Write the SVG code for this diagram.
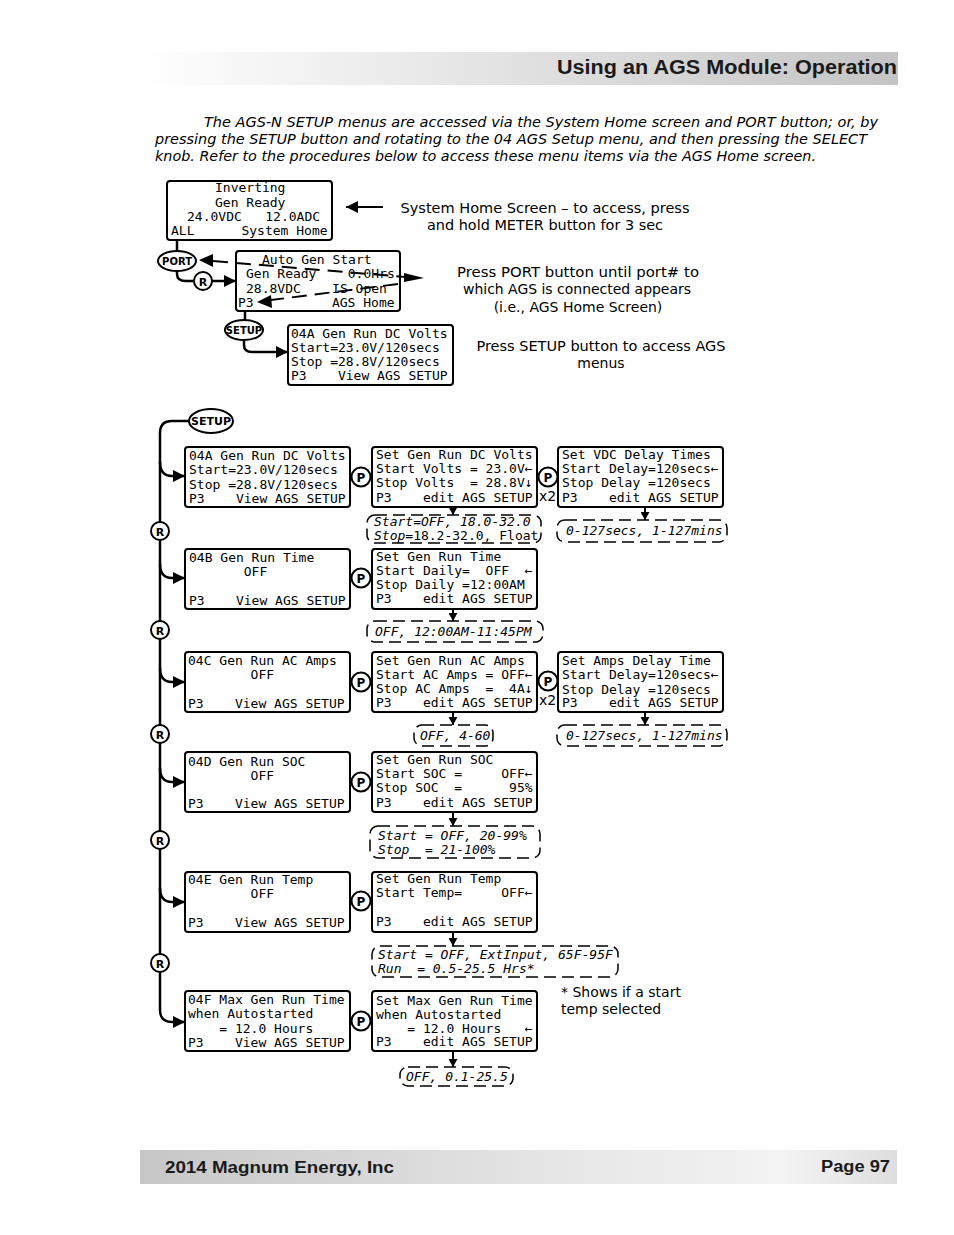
<svg xmlns="http://www.w3.org/2000/svg" width="954" height="1235" viewBox="0 0 954 1235">
<defs>
<linearGradient id="hdr" x1="0" y1="0" x2="1" y2="0">
<stop offset="0" stop-color="#ffffff"/>
<stop offset="0.45" stop-color="#e4e4e4"/>
<stop offset="1" stop-color="#c4c4c4"/>
</linearGradient>
<linearGradient id="ftr" x1="0" y1="0" x2="1" y2="0">
<stop offset="0" stop-color="#c6c6c6"/>
<stop offset="0.55" stop-color="#e6e6e6"/>
<stop offset="0.85" stop-color="#f3f3f3"/>
<stop offset="1" stop-color="#dedede"/>
</linearGradient>
<marker id="ah" markerUnits="userSpaceOnUse" markerWidth="12" markerHeight="12" refX="12" refY="6" orient="auto">
<path d="M0,0 L12,6 L0,12 z" fill="#000"/>
</marker>
<marker id="sm" markerUnits="userSpaceOnUse" markerWidth="9" markerHeight="9" refX="8" refY="4.5" orient="auto">
<path d="M0,0 L8,4.5 L0,9 z" fill="#000"/>
</marker>
<style>
.scr{fill:#fff;stroke:#000;stroke-width:2}
.mono{font-family:"DejaVu Sans Mono","Liberation Mono",monospace;font-size:13px;fill:#000;white-space:pre}
.it{font-family:"DejaVu Sans Mono","Liberation Mono",monospace;font-size:13px;font-style:italic;fill:#000;white-space:pre}
.rng{fill:#fff;stroke:#000;stroke-width:1.5;stroke-dasharray:12 6}
.conn{fill:none;stroke:#000;stroke-width:2.5}
.thin{fill:none;stroke:#000;stroke-width:2}
.dash{fill:none;stroke:#000;stroke-width:2;stroke-dasharray:15 8}
.btn{fill:#fff;stroke:#000;stroke-width:2}
.bl{font-family:"DejaVu Sans","Liberation Sans",sans-serif;font-weight:bold;fill:#000;text-anchor:middle}
.desc{font-family:"DejaVu Sans","Liberation Sans",sans-serif;font-size:14px;fill:#000}
.intro{font-family:"DejaVu Sans","Liberation Sans",sans-serif;font-size:14.5px;font-style:italic;fill:#000}
</style>
</defs>
<rect width="954" height="1235" fill="#fff"/>

<g id="header">
<rect x="140" y="52" width="758" height="33" fill="url(#hdr)"/>
<text x="897" y="74" text-anchor="end" font-family="Liberation Sans, Arial, sans-serif" font-weight="bold" font-size="19.5" fill="#1a1a1a" textLength="340" lengthAdjust="spacingAndGlyphs">Using an AGS Module: Operation</text>
</g>

<g id="intro">
<text class="intro" x="204" y="127" textLength="674" lengthAdjust="spacingAndGlyphs">The AGS-N SETUP menus are accessed via the System Home screen and PORT button; or, by</text>
<text class="intro" x="155" y="144" textLength="712" lengthAdjust="spacingAndGlyphs">pressing the SETUP button and rotating to the 04 AGS Setup menu, and then pressing the SELECT</text>
<text class="intro" x="155" y="161" textLength="661" lengthAdjust="spacingAndGlyphs">knob. Refer to the procedures below to access these menu items via the AGS Home screen.</text>
</g>

<g id="connectors">
<path class="thin" d="M383,207 H346" marker-end="url(#ah)"/>
<path class="conn" d="M177,240 V251"/>
<path class="conn" d="M177,271 V274 Q177,281 186,281 H194"/>
<path class="conn" d="M212,281 H236" marker-end="url(#ah)"/>
<path class="conn" d="M245,311 V321"/>
<path class="conn" d="M244,340 V345 Q244,352 252,352 H288" marker-end="url(#ah)"/>
<path class="dash" d="M213,261 L405,277"/>
<polygon points="199,260 213,254 213,267" fill="#000"/>
<polygon points="424,278 404,273 404,282" fill="#000"/>
<path class="dash" d="M398,284 L271,300"/>
<polygon points="257,302 271,295 272,308" fill="#000"/>

<path class="conn" d="M189,421 H172 Q160,421 160,433 V1010 Q160,1022 172,1022 H185" marker-end="url(#ah)"/>
<path class="conn" d="M160,462 Q160,476 172,476 H185" marker-end="url(#ah)"/>
<path class="conn" d="M160,564 Q160,578 172,578 H185" marker-end="url(#ah)"/>
<path class="conn" d="M160,668 Q160,682 172,682 H185" marker-end="url(#ah)"/>
<path class="conn" d="M160,768 Q160,782 172,782 H185" marker-end="url(#ah)"/>
<path class="conn" d="M160,888 Q160,902 172,902 H185" marker-end="url(#ah)"/>

<path class="thin" d="M453,507 V515" marker-end="url(#sm)"/>
<path class="thin" d="M645,507 V520" marker-end="url(#sm)"/>
<path class="thin" d="M453,609 V621" marker-end="url(#sm)"/>
<path class="thin" d="M453,712 V725" marker-end="url(#sm)"/>
<path class="thin" d="M645,712 V725" marker-end="url(#sm)"/>
<path class="thin" d="M453,812 V826" marker-end="url(#sm)"/>
<path class="thin" d="M453,932 V946" marker-end="url(#sm)"/>
<path class="thin" d="M453,1051 V1067" marker-end="url(#sm)"/>
</g>

<g id="system-home" xml:space="preserve">
<rect class="scr" x="167" y="181" width="165" height="59" rx="3"/>
<text class="mono" x="215" y="192">Inverting</text>
<text class="mono" x="215" y="207">Gen Ready</text>
<text class="mono" x="187" y="221">24.0VDC   12.0ADC</text>
<text class="mono" x="171" y="235">ALL      System Home</text>
</g>
<g id="note-system-home">
<text class="desc" x="545" y="213" text-anchor="middle" textLength="289" lengthAdjust="spacingAndGlyphs">System Home Screen – to access, press</text>
<text class="desc" x="545" y="230" text-anchor="middle" textLength="236" lengthAdjust="spacingAndGlyphs">and hold METER button for 3 sec</text>
</g>

<g id="port-btn">
<ellipse class="btn" cx="177" cy="261" rx="19" ry="10"/>
<text class="bl" x="177" y="265" font-size="10">PORT</text>
</g>
<g id="r-top">
<circle class="btn" cx="203" cy="281" r="9"/>
<text class="bl" x="203" y="285.5" font-size="11">R</text>
</g>

<g id="ags-home" xml:space="preserve">
<rect x="236" y="251" width="164" height="60" rx="3" fill="none" stroke="#000" stroke-width="2"/>
<text class="mono" x="262" y="264">Auto Gen Start</text>
<text class="mono" x="246" y="278">Gen Ready    0.0Hrs</text>
<text class="mono" x="246" y="293">28.8VDC    IS Open</text>
<text class="mono" x="238" y="307">P3          AGS Home</text>
</g>
<g id="note-port">
<text class="desc" x="578" y="277" text-anchor="middle" textLength="242" lengthAdjust="spacingAndGlyphs">Press PORT button until port# to</text>
<text class="desc" x="577" y="294" text-anchor="middle" textLength="228" lengthAdjust="spacingAndGlyphs">which AGS is connected appears</text>
<text class="desc" x="578" y="312" text-anchor="middle">(i.e., AGS Home Screen)</text>
</g>

<g id="setup-top">
<ellipse class="btn" cx="244" cy="330" rx="19" ry="10"/>
<text class="bl" x="244" y="334" font-size="10">SETUP</text>
</g>

<g id="top-04a" xml:space="preserve">
<rect class="scr" x="288" y="325" width="165" height="60" rx="3"/>
<text class="mono" x="291" y="338">04A Gen Run DC Volts</text>
<text class="mono" x="291" y="352">Start=23.0V/120secs</text>
<text class="mono" x="291" y="366">Stop =28.8V/120secs</text>
<text class="mono" x="291" y="380">P3    View AGS SETUP</text>
</g>
<g id="note-setup">
<text class="desc" x="601" y="351" text-anchor="middle" textLength="249" lengthAdjust="spacingAndGlyphs">Press SETUP button to access AGS</text>
<text class="desc" x="601" y="368" text-anchor="middle">menus</text>
</g>

<g id="setup-main">
<ellipse class="btn" cx="211" cy="421" rx="22" ry="12"/>
<text class="bl" x="211" y="425" font-size="11">SETUP</text>
</g>

<g id="r-buttons">
<circle class="btn" cx="160" cy="531" r="9"/><text class="bl" x="160" y="535.5" font-size="11">R</text>
<circle class="btn" cx="160" cy="630" r="9"/><text class="bl" x="160" y="634.5" font-size="11">R</text>
<circle class="btn" cx="160" cy="734" r="9"/><text class="bl" x="160" y="738.5" font-size="11">R</text>
<circle class="btn" cx="160" cy="840" r="9"/><text class="bl" x="160" y="844.5" font-size="11">R</text>
<circle class="btn" cx="160" cy="963" r="9"/><text class="bl" x="160" y="967.5" font-size="11">R</text>
</g>

<g id="view-04a" xml:space="preserve">
<rect class="scr" x="185" y="447" width="165" height="60" rx="3"/>
<text class="mono" x="189" y="460">04A Gen Run DC Volts</text>
<text class="mono" x="189" y="474">Start=23.0V/120secs</text>
<text class="mono" x="189" y="489">Stop =28.8V/120secs</text>
<text class="mono" x="189" y="503">P3    View AGS SETUP</text>
</g>
<g id="view-04b" xml:space="preserve">
<rect class="scr" x="185" y="549" width="165" height="60" rx="3"/>
<text class="mono" x="189" y="562">04B Gen Run Time</text>
<text class="mono" x="189" y="576">       OFF</text>
<text class="mono" x="189" y="605">P3    View AGS SETUP</text>
</g>
<g id="view-04c" xml:space="preserve">
<rect class="scr" x="185" y="652" width="165" height="60" rx="3"/>
<text class="mono" x="188" y="665">04C Gen Run AC Amps</text>
<text class="mono" x="188" y="679">        OFF</text>
<text class="mono" x="188" y="708">P3    View AGS SETUP</text>
</g>
<g id="view-04d" xml:space="preserve">
<rect class="scr" x="185" y="752" width="165" height="60" rx="3"/>
<text class="mono" x="188" y="766">04D Gen Run SOC</text>
<text class="mono" x="188" y="780">        OFF</text>
<text class="mono" x="188" y="808">P3    View AGS SETUP</text>
</g>
<g id="view-04e" xml:space="preserve">
<rect class="scr" x="185" y="872" width="165" height="60" rx="3"/>
<text class="mono" x="188" y="884">04E Gen Run Temp</text>
<text class="mono" x="188" y="898">        OFF</text>
<text class="mono" x="188" y="927">P3    View AGS SETUP</text>
</g>
<g id="view-04f" xml:space="preserve">
<rect class="scr" x="185" y="991" width="165" height="60" rx="3"/>
<text class="mono" x="188" y="1004">04F Max Gen Run Time</text>
<text class="mono" x="188" y="1018">when Autostarted</text>
<text class="mono" x="188" y="1033">    = 12.0 Hours</text>
<text class="mono" x="188" y="1047">P3    View AGS SETUP</text>
</g>

<g id="edit-dc-volts" xml:space="preserve">
<rect class="scr" x="372" y="447" width="165" height="60" rx="3"/>
<text class="mono" x="376" y="459">Set Gen Run DC Volts</text>
<text class="mono" x="376" y="473">Start Volts = 23.0V←</text>
<text class="mono" x="376" y="487">Stop Volts  = 28.8V↓</text>
<text class="mono" x="376" y="502">P3    edit AGS SETUP</text>
</g>
<g id="edit-vdc-delay" xml:space="preserve">
<rect class="scr" x="558" y="447" width="165" height="60" rx="3"/>
<text class="mono" x="562" y="459">Set VDC Delay Times</text>
<text class="mono" x="562" y="473">Start Delay=120secs←</text>
<text class="mono" x="562" y="487">Stop Delay =120secs</text>
<text class="mono" x="562" y="502">P3    edit AGS SETUP</text>
</g>
<g id="edit-run-time" xml:space="preserve">
<rect class="scr" x="372" y="549" width="165" height="60" rx="3"/>
<text class="mono" x="376" y="561">Set Gen Run Time</text>
<text class="mono" x="376" y="575">Start Daily=  OFF  ←</text>
<text class="mono" x="376" y="589">Stop Daily =12:00AM</text>
<text class="mono" x="376" y="603">P3    edit AGS SETUP</text>
</g>
<g id="edit-ac-amps" xml:space="preserve">
<rect class="scr" x="372" y="652" width="165" height="60" rx="3"/>
<text class="mono" x="376" y="665">Set Gen Run AC Amps</text>
<text class="mono" x="376" y="679">Start AC Amps = OFF←</text>
<text class="mono" x="376" y="693">Stop AC Amps  =  4A↓</text>
<text class="mono" x="376" y="707">P3    edit AGS SETUP</text>
</g>
<g id="edit-amps-delay" xml:space="preserve">
<rect class="scr" x="558" y="652" width="165" height="60" rx="3"/>
<text class="mono" x="562" y="665">Set Amps Delay Time</text>
<text class="mono" x="562" y="679">Start Delay=120secs←</text>
<text class="mono" x="562" y="694">Stop Delay =120secs</text>
<text class="mono" x="562" y="707">P3    edit AGS SETUP</text>
</g>
<g id="edit-soc" xml:space="preserve">
<rect class="scr" x="372" y="752" width="165" height="60" rx="3"/>
<text class="mono" x="376" y="764">Set Gen Run SOC</text>
<text class="mono" x="376" y="778">Start SOC =     OFF←</text>
<text class="mono" x="376" y="792">Stop SOC  =      95%</text>
<text class="mono" x="376" y="807">P3    edit AGS SETUP</text>
</g>
<g id="edit-temp" xml:space="preserve">
<rect class="scr" x="372" y="872" width="165" height="60" rx="3"/>
<text class="mono" x="376" y="883">Set Gen Run Temp</text>
<text class="mono" x="376" y="897">Start Temp=     OFF←</text>
<text class="mono" x="376" y="926">P3    edit AGS SETUP</text>
</g>
<g id="edit-max-run" xml:space="preserve">
<rect class="scr" x="372" y="991" width="165" height="60" rx="3"/>
<text class="mono" x="376" y="1005">Set Max Gen Run Time</text>
<text class="mono" x="376" y="1019">when Autostarted</text>
<text class="mono" x="376" y="1033">    = 12.0 Hours   ←</text>
<text class="mono" x="376" y="1046">P3    edit AGS SETUP</text>
</g>

<g id="p-buttons">
<circle class="btn" cx="361" cy="477" r="9.5"/><text class="bl" x="361" y="481.5" font-size="12">P</text>
<circle class="btn" cx="548" cy="477" r="9.5"/><text class="bl" x="548" y="481.5" font-size="12">P</text>
<text class="desc" x="539" y="501" font-size="15">x2</text>
<circle class="btn" cx="361" cy="578" r="9.5"/><text class="bl" x="361" y="582.5" font-size="12">P</text>
<circle class="btn" cx="361" cy="682" r="9.5"/><text class="bl" x="361" y="686.5" font-size="12">P</text>
<circle class="btn" cx="548" cy="681" r="9.5"/><text class="bl" x="548" y="685.5" font-size="12">P</text>
<text class="desc" x="539" y="705" font-size="15">x2</text>
<circle class="btn" cx="361" cy="782" r="9.5"/><text class="bl" x="361" y="786.5" font-size="12">P</text>
<circle class="btn" cx="361" cy="901" r="9.5"/><text class="bl" x="361" y="905.5" font-size="12">P</text>
<circle class="btn" cx="361" cy="1021" r="9.5"/><text class="bl" x="361" y="1025.5" font-size="12">P</text>
</g>

<g id="range-dc-volts" xml:space="preserve">
<rect class="rng" x="367" y="515" width="174" height="28" rx="8"/>
<text class="it" x="374" y="526">Start=OFF, 18.0-32.0</text>
<text class="mono" x="374" y="540"><tspan font-style="italic">Stop</tspan>=18.2-32.0, Float</text>
</g>
<g id="range-vdc-delay" xml:space="preserve">
<rect class="rng" x="557" y="520" width="170" height="22" rx="8"/>
<text class="it" x="566" y="535">0-127secs, 1-127mins</text>
</g>
<g id="range-run-time" xml:space="preserve">
<rect class="rng" x="367" y="621" width="176" height="21" rx="8"/>
<text class="it" x="375" y="636">OFF, 12:00AM-11:45PM</text>
</g>
<g id="range-ac-amps" xml:space="preserve">
<rect class="rng" x="414" y="725" width="79" height="21" rx="8"/>
<text class="it" x="420" y="740">OFF, 4-60</text>
</g>
<g id="range-amps-delay" xml:space="preserve">
<rect class="rng" x="557" y="725" width="170" height="21" rx="8"/>
<text class="it" x="566" y="740">0-127secs, 1-127mins</text>
</g>
<g id="range-soc" xml:space="preserve">
<rect class="rng" x="370" y="826" width="170" height="32" rx="8"/>
<text class="it" x="378" y="840">Start = OFF, 20-99%</text>
<text class="it" x="378" y="854">Stop  = 21-100%</text>
</g>
<g id="range-temp" xml:space="preserve">
<rect class="rng" x="372" y="946" width="246" height="31" rx="8"/>
<text class="it" x="378" y="959">Start = OFF, ExtInput, 65F-95F</text>
<text class="it" x="378" y="973">Run  = 0.5-25.5 Hrs*</text>
</g>
<g id="range-max-run" xml:space="preserve">
<rect class="rng" x="400" y="1067" width="113" height="19" rx="8"/>
<text class="it" x="406" y="1081">OFF, 0.1-25.5</text>
</g>

<g id="note-temp">
<text class="desc" x="561" y="997">* Shows if a start</text>
<text class="desc" x="561" y="1014">temp selected</text>
</g>

<g id="footer">
<rect x="140" y="1150" width="757" height="34" fill="url(#ftr)"/>
<text x="165" y="1173" font-family="Liberation Sans, Arial, sans-serif" font-weight="bold" font-size="16" fill="#1a1a1a" textLength="229" lengthAdjust="spacingAndGlyphs">2014 Magnum Energy, Inc</text>
<text x="890" y="1172" text-anchor="end" font-family="Liberation Sans, Arial, sans-serif" font-weight="bold" font-size="16" fill="#1a1a1a" textLength="69" lengthAdjust="spacingAndGlyphs">Page 97</text>
</g>
</svg>
